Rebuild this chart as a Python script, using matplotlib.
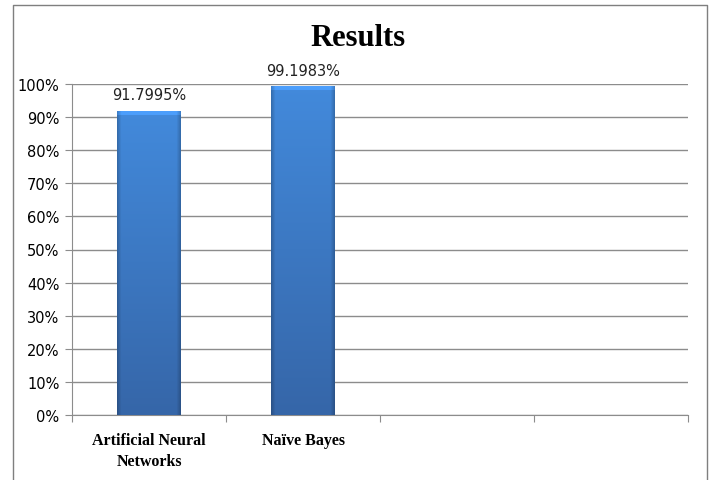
import numpy as np
import matplotlib.pyplot as plt
from matplotlib.lines import Line2D

# data
categories = ["Artificial Neural\nNetworks", "Naïve Bayes", "", ""]
values = [91.7995, 99.1983, None, None]
labels = ["91.7995%", "99.1983%"]
yticks = list(range(0, 101, 10))

W, H = 710, 481
fig = plt.figure(figsize=(W / 100, H / 100), dpi=100)
ax = fig.add_axes([72 / W, 1 - 416 / H, (688 - 72) / W, (416 - 85) / H])

sans = ["Liberation Sans Narrow", "DejaVu Sans"]
serif = ["Liberation Serif", "DejaVu Serif"]

x = np.arange(len(categories))
bw = 0.41
px_per_unit = 331 / 100.0

for i, v in enumerate(values):
    if v is None:
        continue
    ax.bar(x[i], v, width=bw, color="#3f7fd0", zorder=2)
    # Excel-like bevel shading
    rows = max(int(round(v * px_per_unit)), 2)
    cols = 63
    t = np.linspace(0, 1, rows)[:, None]
    top = np.array([0.26, 0.54, 0.86])
    bot = np.array([0.21, 0.40, 0.66])
    img = top * (1 - t[..., None]) + bot * t[..., None]
    img = np.repeat(img, cols, axis=1)
    s = np.linspace(0, 1, cols)
    edge = np.minimum(s, 1 - s) * cols
    fac = np.where(edge < 4, 0.80 + 0.05 * edge, 1.0)
    img = img * fac[None, :, None]
    img[:4] = np.clip(img[:4] * 1.15, 0, 1)
    img = np.clip(img, 0, 1)
    ax.imshow(img, extent=(x[i] - bw / 2, x[i] + bw / 2, 0, v), aspect="auto",
              interpolation="bilinear", zorder=3, origin="upper")
    ax.text(x[i], v + 5, labels[i], ha="center", va="center",
            fontsize=10.5, family=sans, color="#222222")

ax.set_xlim(-0.5, len(categories) - 0.5)
ax.set_ylim(0, 100)
ax.set_yticks(yticks)
ax.set_yticklabels([f"{t}%" for t in yticks], family=sans, fontsize=10.5)
ax.yaxis.grid(True, color="#8c8c8c", lw=1, zorder=0)
ax.set_axisbelow(True)

ax.set_xticks(np.arange(-0.5, len(categories)), labels=[""] * (len(categories) + 1))
ax.set_xticks(x, labels=categories, minor=True)
ax.tick_params(axis="x", which="minor", length=0, pad=12)
ax.tick_params(axis="x", which="major", length=5, color="#8c8c8c")
ax.tick_params(axis="y", length=5, color="#8c8c8c", pad=4)
for lab in ax.get_xticklabels(minor=True):
    lab.set_family(serif)
    lab.set_fontweight("bold")
    lab.set_fontsize(11.5)
    lab.set_linespacing(1.45)

for sp in ["top", "right"]:
    ax.spines[sp].set_visible(False)
for sp in ["left", "bottom"]:
    ax.spines[sp].set_color("#8c8c8c")

fig.text(358 / W, 1 - 38 / H, "Results", ha="center", va="center",
         fontsize=22, fontweight="bold", family=serif)

# chart border
bx = [13 / W, 13 / W, 707 / W, 707 / W]
by = [0, 1 - 6 / H, 1 - 6 / H, 0]
fig.add_artist(Line2D(bx, by, color="#7f7f7f", lw=1, transform=fig.transFigure))

fig.savefig("out.png", dpi=100)
